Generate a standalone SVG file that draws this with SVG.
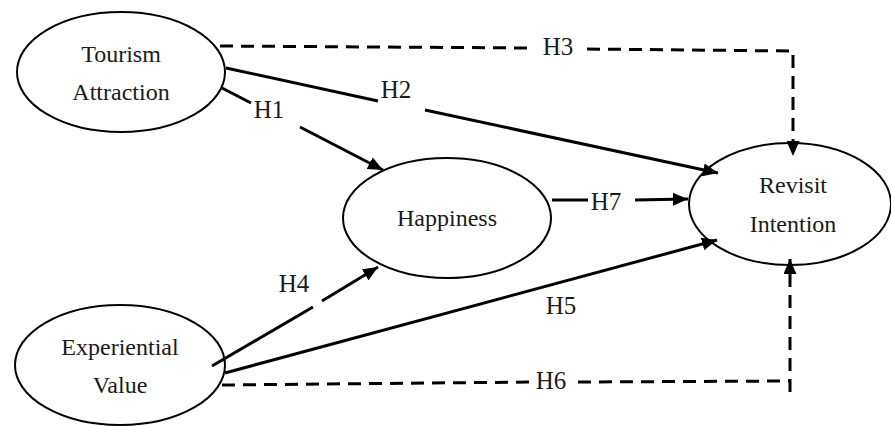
<svg xmlns="http://www.w3.org/2000/svg" width="891" height="426" viewBox="0 0 891 426">
<style>
.node ellipse{fill:#fff;stroke:#000;stroke-width:2}
text{font-family:'Liberation Serif','Times New Roman','DejaVu Serif',serif;fill:#1a1a1a;text-anchor:middle}
.node text{font-size:24px}
.lbl{font-size:25px}
.solid{fill:none;stroke:#000;stroke-width:3}
.dash{fill:none;stroke:#000;stroke-width:3;stroke-dasharray:13 8}
</style>
<defs>
<marker id="arr" viewBox="0 0 15 13" refX="15" refY="6.5" markerWidth="15" markerHeight="13" markerUnits="userSpaceOnUse" orient="auto">
<path d="M0,0 L15,6.5 L0,13 Z" fill="#000"/>
</marker>
</defs>
<rect width="891" height="426" fill="#fff"/>
<g id="node-tourism" class="node">
<ellipse cx="121" cy="72" rx="104" ry="60"/>
<text x="121" y="62" font-family="Liberation Serif, serif">Tourism</text>
<text x="121" y="100" font-family="Liberation Serif, serif">Attraction</text>
</g>
<g id="node-happiness" class="node">
<ellipse cx="447" cy="218" rx="104" ry="60"/>
<text x="447" y="226" font-family="Liberation Serif, serif">Happiness</text>
</g>
<g id="node-revisit" class="node">
<ellipse cx="790" cy="204" rx="101" ry="61"/>
<text x="793" y="193" font-family="Liberation Serif, serif">Revisit</text>
<text x="793" y="232" font-family="Liberation Serif, serif">Intention</text>
</g>
<g id="node-experiential" class="node">
<ellipse cx="120" cy="365" rx="105" ry="60"/>
<text x="120" y="355" font-family="Liberation Serif, serif">Experiential</text>
<text x="120" y="393" font-family="Liberation Serif, serif">Value</text>
</g>
<g id="connectors">
<path id="c-h1" class="solid" d="M222,88 L251,103 M300,127 L383,170" marker-end="url(#arr)"/>
<path id="c-h2" class="solid" d="M226,68 L378,101 M425,110 L718,173" marker-end="url(#arr)"/>
<path id="c-h3" class="dash" d="M220,46 L533,48 M587,49 L793,51 L793,156" marker-end="url(#arr)"/>
<path id="c-h4" class="solid" d="M212,366 L313,307 M322,301 L378,267" marker-end="url(#arr)"/>
<path id="c-h5" class="solid" d="M225,373 L717,240" marker-end="url(#arr)"/>
<path id="c-h6" class="dash" d="M222,385 L535,382 M578,382 L790,381 M790,392 L790,259" marker-end="url(#arr)"/>
<path id="c-h7" class="solid" d="M552,200 L588,200 M635,200 L688,199" marker-end="url(#arr)"/>
<text class="lbl" x="269" y="118" font-family="Liberation Serif, serif">H1</text>
<text class="lbl" x="396" y="98" font-family="Liberation Serif, serif">H2</text>
<text class="lbl" x="558" y="55" font-family="Liberation Serif, serif">H3</text>
<text class="lbl" x="294" y="292" font-family="Liberation Serif, serif">H4</text>
<text class="lbl" x="561" y="314" font-family="Liberation Serif, serif">H5</text>
<text class="lbl" x="551" y="389" font-family="Liberation Serif, serif">H6</text>
<text class="lbl" x="606" y="210" font-family="Liberation Serif, serif">H7</text>
</g>
</svg>
